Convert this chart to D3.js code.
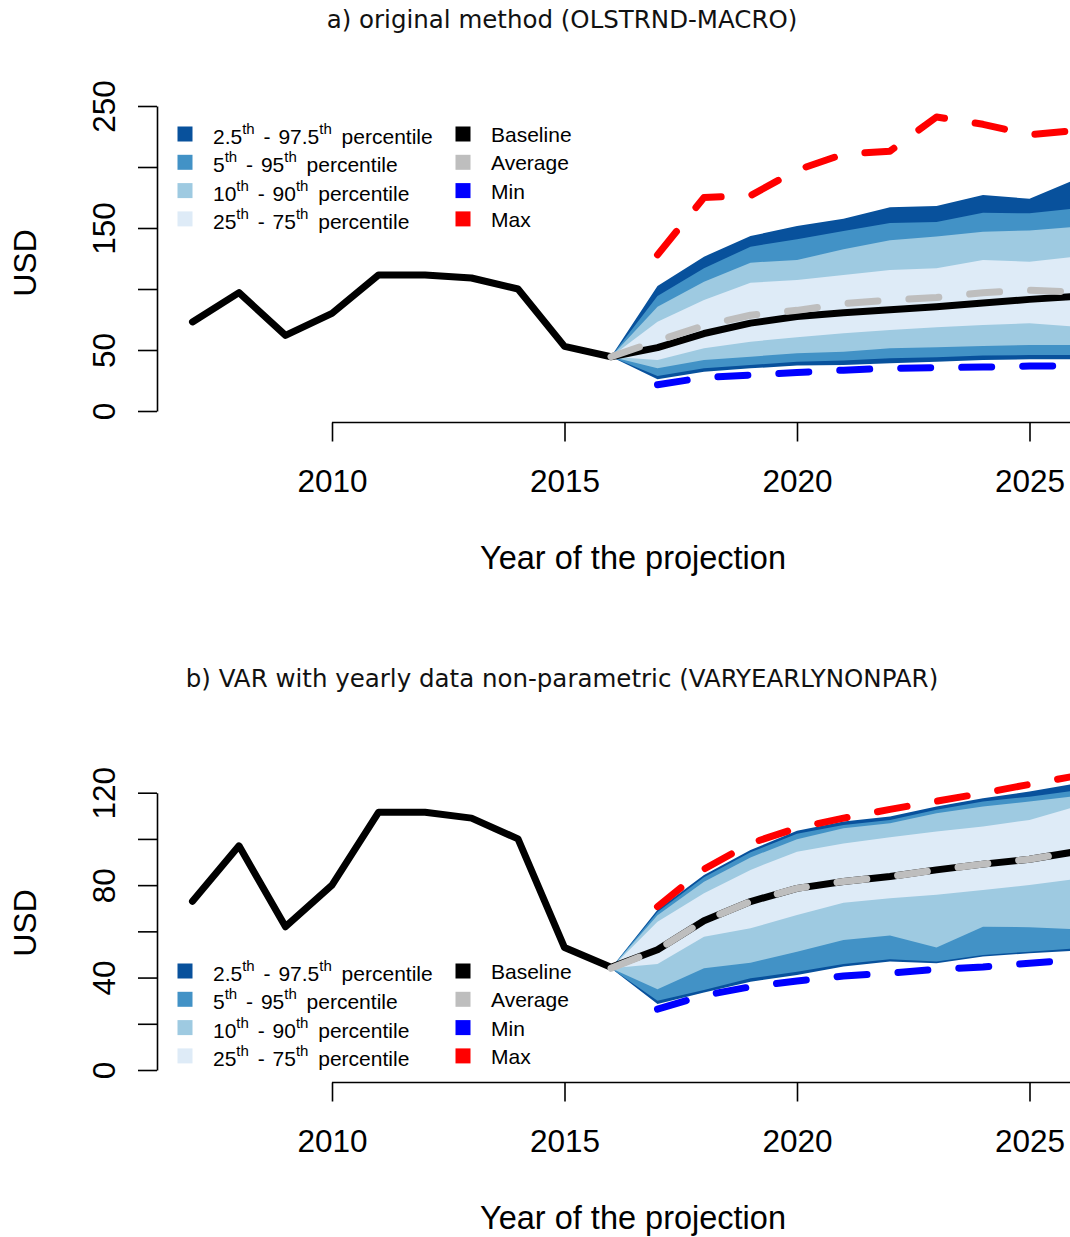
<!DOCTYPE html>
<html>
<head>
<meta charset="utf-8">
<script src="https://cdn.jsdelivr.net/npm/d3@7"></script>
<style>
  body { margin: 0; background: #fff; }
  svg { display: block; }
</style>
</head>
<body>
<svg id="fig" width="1070" height="1237"></svg>
<script>
// ---- observed history (same series in both panels) ----
const histYears  = [2007, 2008, 2009, 2010, 2011, 2012, 2013, 2014, 2015, 2016];
const histValues = [73, 97, 62, 80, 111.5, 111.5, 109, 100, 53, 44.5];

// ---- projection horizon ----
const projYears    = [2016, 2017, 2018, 2019, 2020, 2021, 2022, 2023, 2024, 2025, 2026];
const extremeYears = [2017, 2018, 2019, 2020, 2021, 2022, 2023, 2024, 2025, 2026];

// ---- panel a: OLSTRND-MACRO ----
const aP025 = [44.5, 26, 32.2, 35, 37.2, 37.7, 39.1, 40.4, 41.8, 42.4, 42.4];
const aP05  = [44.5, 28.7, 35, 37.7, 40.4, 41.3, 43.2, 44, 45.4, 45.9, 46];
const aP10  = [44.5, 35, 41.8, 44.5, 47.3, 48.6, 51.4, 52.2, 53.3, 54, 54];
const aP25  = [44.5, 41.8, 51.4, 56.8, 60.4, 63.7, 66.4, 68.6, 70.5, 71.9, 69];
const aP75  = [44.5, 73.2, 91, 105.2, 107.4, 111.5, 115.6, 117, 123.8, 122.4, 126.5];
const aP90  = [44.5, 85.5, 106, 121.6, 123.8, 132.5, 140, 143, 147, 148, 151];
const aP95  = [44.5, 94.3, 117, 134.7, 140.7, 147.5, 154, 155, 162.5, 162, 166];
const aP975 = [44.5, 102.5, 126.5, 143.4, 151.6, 157.5, 167, 168, 177, 174, 190];
const aBase = [44.5, 52, 63.5, 72, 77.5, 80.5, 83, 85.5, 88.5, 91.5, 94];
const aAvg  = [44.5, 57.5, 70, 78.5, 82.5, 88, 91, 93, 97, 99, 97.5];
const aMin  = [21.5, 27.5, 29.5, 31.5, 33.5, 35, 35.5, 36, 36.8, 37];
const aMax  = [128, 175, 176.5, 197.5, 210.5, 213, 241, 235, 226.5, 230];
const aYTicks  = [0, 50, 100, 150, 200, 250];
const aYLabels = [0, 50, 150, 250];

// ---- panel b: VARYEARLYNONPAR ----
const bP025 = [44, 28.6, 33.5, 38.2, 41.1, 44.8, 46.9, 46.2, 49.1, 50.5, 51.7];
const bP05  = [44, 30, 34.6, 39.7, 42.5, 45.9, 47.9, 46.9, 49.8, 51.2, 52.7];
const bP10  = [44, 34.9, 44, 46.4, 51.2, 56.3, 58.2, 53, 62, 61.8, 60.9];
const bP25  = [44, 45.9, 57.7, 61.3, 67.1, 72.4, 74.3, 75.8, 77.9, 80.1, 82.7];
const bP75  = [44, 64.2, 76.5, 86.6, 94.5, 98, 100.7, 103.2, 105.4, 108.2, 114];
const bP90  = [44, 67, 81.5, 92, 99.9, 104.6, 106.8, 111.1, 114, 116.2, 118.6];
const bP95  = [44, 68.4, 83.4, 94.2, 102.2, 106, 108.2, 112.6, 116.2, 118.3, 121];
const bP975 = [44, 69.3, 84.4, 95.2, 103.5, 107.5, 109.7, 114, 117.6, 120.5, 124];
const bBase = [44, 52, 64.6, 72.9, 78.6, 81.6, 83.7, 86.6, 89.1, 91.2, 94.5];
const bAvg  = [44, 52, 64.6, 72.9, 78.6, 81.6, 83.7, 86.6, 89.1, 91.2, 94.5];
const bMin  = [26.3, 32.3, 36, 38.5, 40.7, 41.9, 43.6, 44.6, 46.2, 47.6];
const bMax  = [70.7, 86.9, 98.1, 104.7, 109, 112.8, 116.3, 119.8, 123.6, 127.3];
const bYTicks  = [0, 20, 40, 60, 80, 100, 120];
const bYLabels = [0, 40, 80, 120];

// ---- shared axis / legend text ----
const xTicks = [2010, 2015, 2020, 2025];
const xAxisEnd = 2030;
const bandLabels = [["2.5", "97.5"], ["5", "95"], ["10", "90"], ["25", "75"]];
const lineLabels = ["Baseline", "Average", "Min", "Max"];
const bandColors = ["#08519C", "#4292C6", "#9ECAE1", "#DEEBF7"];
const lineColors = ["#000000", "#BEBEBE", "#0000FF", "#FF0000"];

const AXIS_FONT = "'Liberation Sans', Arial, sans-serif";
const TITLE_FONT = "'DejaVu Sans', Verdana, sans-serif";

const svg = d3.select("#fig");

function drawPanel(cfg) {
  const x = d3.scaleLinear().domain([2007, 2030]).range([192.5, 192.5 + 23 * 46.5]);
  const y = d3.scaleLinear().domain(cfg.yDomain).range(cfg.yRange);
  const g = svg.append("g");

  // title
  g.append("text")
    .attr("x", 562).attr("y", cfg.titleY)
    .attr("text-anchor", "middle")
    .style("font-family", TITLE_FONT).style("font-size", "24.5px")
    .attr("fill", "#111")
    .text(cfg.title);

  // percentile fans, widest first
  const bands = [[cfg.p025, cfg.p975], [cfg.p05, cfg.p95], [cfg.p10, cfg.p90], [cfg.p25, cfg.p75]];
  const area = d3.area()
    .x(d => x(d.year)).y0(d => y(d.lo)).y1(d => y(d.hi));
  bands.forEach(([lo, hi], i) => {
    const rows = projYears.map((yr, k) => ({ year: yr, lo: lo[k], hi: hi[k] }));
    g.append("path").attr("d", area(rows)).attr("fill", bandColors[i]).attr("stroke", "none");
  });

  const line = d3.line().x(d => x(d[0])).y(d => y(d[1]));

  // baseline: history joined to the projection
  const basePts = histYears.map((yr, k) => [yr, histValues[k]])
    .concat(projYears.slice(1).map((yr, k) => [yr, cfg.base[k + 1]]));
  g.append("path").attr("d", line(basePts))
    .attr("fill", "none").attr("stroke", lineColors[0]).attr("stroke-width", 7)
    .attr("stroke-linejoin", "round").attr("stroke-linecap", "round");

  // average, min, max (dashed)
  const dashed = [
    [projYears, cfg.avg, lineColors[1]],
    [extremeYears, cfg.min, lineColors[2]],
    [extremeYears, cfg.max, lineColors[3]]
  ];
  dashed.forEach(([yrs, vals, col]) => {
    g.append("path").attr("d", line(yrs.map((yr, k) => [yr, vals[k]])))
      .attr("fill", "none").attr("stroke", col).attr("stroke-width", 7)
      .attr("stroke-dasharray", "30 31")
      .attr("stroke-linejoin", "round").attr("stroke-linecap", "round");
  });

  // y axis
  const yAxis = d3.axisLeft(y).tickValues(cfg.yTicks).tickSize(19).tickSizeOuter(0)
    .tickFormat(d => cfg.yLabels.includes(d) ? String(d) : "");
  const ya = g.append("g").attr("transform", "translate(157,0)").call(yAxis);
  ya.select(".domain").attr("stroke", "#000").attr("stroke-width", 1.6);
  ya.selectAll(".tick line").attr("stroke", "#000").attr("stroke-width", 1.6);
  ya.selectAll(".tick text")
    .attr("x", null).attr("dy", null).attr("y", null)
    .attr("text-anchor", "middle")
    .attr("transform", "translate(-42,0) rotate(-90)")
    .attr("fill", "#000")
    .style("font-family", AXIS_FONT).style("font-size", "31.5px");

  g.append("text")
    .attr("transform", `translate(36,${cfg.usdY}) rotate(-90)`)
    .attr("text-anchor", "middle")
    .style("font-family", AXIS_FONT).style("font-size", "32px")
    .text("USD");

  // x axis
  const xAxis = d3.axisBottom(x).tickValues(xTicks).tickSize(19).tickSizeOuter(0)
    .tickFormat(d3.format("d"));
  const xa = g.append("g").attr("transform", `translate(0,${cfg.xAxisY})`).call(xAxis);
  xa.select(".domain").remove();
  xa.append("line")
    .attr("x1", x(xTicks[0])).attr("x2", x(xAxisEnd))
    .attr("stroke", "#000").attr("stroke-width", 1.6);
  xa.selectAll(".tick line").attr("stroke", "#000").attr("stroke-width", 1.6);
  xa.selectAll(".tick text")
    .attr("y", 69).attr("dy", null)
    .attr("fill", "#000")
    .style("font-family", AXIS_FONT).style("font-size", "31.5px");

  g.append("text")
    .attr("x", 633).attr("y", cfg.xAxisY + 146)
    .attr("text-anchor", "middle")
    .style("font-family", AXIS_FONT).style("font-size", "32.5px")
    .text("Year of the projection");

  // legend
  const lg = g.append("g").style("font-family", AXIS_FONT).style("font-size", "21px");
  bandLabels.forEach(([lo, hi], i) => {
    const cy = cfg.legendY + i * 28.3;
    lg.append("rect").attr("x", 177.5).attr("y", cy - 7.5).attr("width", 15).attr("height", 15)
      .attr("fill", bandColors[i]);
    const t = lg.append("text").attr("x", 213).attr("y", cy + 10);
    t.append("tspan").text(lo);
    t.append("tspan").attr("dy", -10).style("font-size", "15px").text("th");
    t.append("tspan").attr("dy", 10).attr("dx", 3).text(" - ");
    t.append("tspan").attr("dx", 2).text(hi);
    t.append("tspan").attr("dy", -10).style("font-size", "15px").text("th");
    t.append("tspan").attr("dy", 10).attr("dx", 4).text(" percentile");
  });
  lineLabels.forEach((lab, i) => {
    const cy = cfg.legendY + i * 28.3;
    lg.append("rect").attr("x", 455.5).attr("y", cy - 7.5).attr("width", 15).attr("height", 15)
      .attr("fill", lineColors[i]);
    lg.append("text").attr("x", 491).attr("y", cy + 8).text(lab);
  });
}

drawPanel({
  title: "a) original method (OLSTRND-MACRO)", titleY: 28,
  yDomain: [0, 250], yRange: [411, 106], yTicks: aYTicks, yLabels: aYLabels, usdY: 263,
  xAxisY: 422.5, legendY: 134,
  p025: aP025, p05: aP05, p10: aP10, p25: aP25, p75: aP75, p90: aP90, p95: aP95, p975: aP975,
  base: aBase, avg: aAvg, min: aMin, max: aMax
});

drawPanel({
  title: "b) VAR with yearly data non-parametric (VARYEARLYNONPAR)", titleY: 687,
  yDomain: [0, 120], yRange: [1070, 792.7], yTicks: bYTicks, yLabels: bYLabels, usdY: 923,
  xAxisY: 1082.5, legendY: 971,
  p025: bP025, p05: bP05, p10: bP10, p25: bP25, p75: bP75, p90: bP90, p95: bP95, p975: bP975,
  base: bBase, avg: bAvg, min: bMin, max: bMax
});
</script>
</body>
</html>
